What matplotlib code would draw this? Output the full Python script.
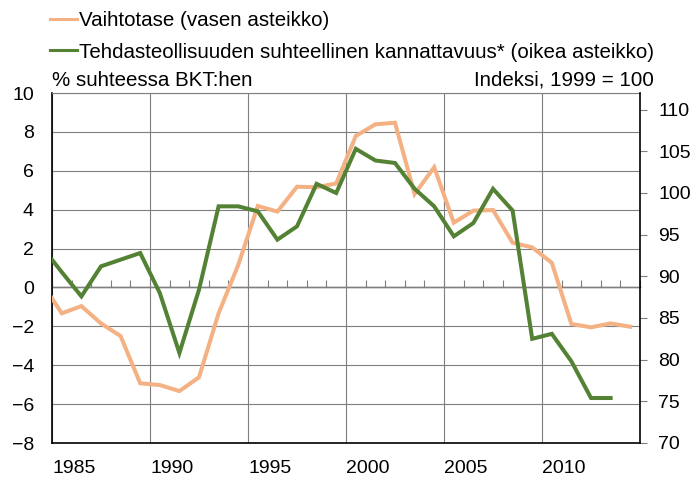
import numpy as np
import matplotlib.pyplot as plt
import matplotlib.transforms as mtransforms
from matplotlib.lines import Line2D

plt.rcParams['font.family'] = ['Liberation Sans', 'DejaVu Sans']

# Data; the 1984 points sit just outside the visible range
years = np.arange(1984, 2015)
vaihtotase = [0.2, -1.33, -0.96, -1.85, -2.5, -4.93, -5.02, -5.33, -4.62, -1.33,
              1.15, 4.19, 3.9, 5.18, 5.15, 5.35, 7.79, 8.39, 8.47, 4.8,
              6.18, 3.33, 3.95, 3.98, 2.3, 2.06, 1.27, -1.88, -2.05, -1.85, -2.02]
kannattavuus = [93.5, 90.5, 87.6, 91.2, 92.0, 92.8, 88.0, 80.8, 88.4, 98.4,
                98.4, 97.8, 94.4, 96.0, 101.1, 100.0, 105.3, 103.9, 103.6, 100.5,
                98.4, 94.8, 96.4, 100.5, 97.9, 82.5, 83.1, 79.8, 75.4, 75.4, np.nan]

x_years = [1985, 1990, 1995, 2000, 2005, 2010]
orange = '#F4B183'
green = '#548235'
grid_col = '#7F7F7F'

fig = plt.figure(figsize=(6.96, 4.8), dpi=100)
ax = fig.add_axes([52/696, 37/480, 588/696, 350/480])
ax2 = ax.twinx()

xpos = years + 0.5  # points at mid-year, gridlines at year boundaries
ax.plot(xpos, vaihtotase, color=orange, lw=2.9, solid_joinstyle='miter', zorder=3)
ax2.plot(xpos, kannattavuus, color=green, lw=2.9, solid_joinstyle='miter', zorder=3)

ax.set_xlim(1985, 2015)
ax.set_ylim(-8, 10)
ax.set_yticks(np.arange(-8, 11, 2))
ax2.set_ylim(70, 112)
ax2.set_yticks(np.arange(70, 111, 5))

ax.set_xticks(x_years)
ax.set_xticklabels([str(y) for y in x_years])
offset = mtransforms.ScaledTranslation(-3/100, 0, fig.dpi_scale_trans)
for lab in ax.get_xticklabels():
    lab.set_ha('left')
    lab.set_transform(lab.get_transform() + offset)

ax.grid(True, color=grid_col, lw=0.8)
ax.set_axisbelow(True)
ax.tick_params(axis='x', length=0, pad=12, labelsize=14)
ax.tick_params(axis='y', length=0, pad=13, labelsize=14)
ax2.tick_params(axis='y', length=5, width=0.8, color=grid_col, pad=8, labelsize=14)

for name in ['left', 'bottom']:
    ax.spines[name].set_color('black')
    ax.spines[name].set_linewidth(1.2)
ax.spines['top'].set_color(grid_col)
ax.spines['top'].set_linewidth(0.8)
ax.spines['right'].set_visible(False)
ax2.spines['right'].set_color('black')
ax2.spines['right'].set_linewidth(1.2)
for name in ['left', 'bottom', 'top']:
    ax2.spines[name].set_visible(False)

# zero axis with yearly tick marks
zero = ax.secondary_xaxis(8/18)
zero.set_xticks(np.arange(1985, 2016, 1))
zero.tick_params(direction='in', length=5, width=0.8, color=grid_col, labelbottom=False)
zero.spines['bottom'].set_color('#404040')
zero.spines['bottom'].set_linewidth(1.0)

fig.text(52/696, 1 - 80/480, '% suhteessa BKT:hen', fontsize=14.8, ha='left', va='center')
fig.text(654/696, 1 - 80/480, 'Indeksi, 1999 = 100', fontsize=14.8, ha='right', va='center')

handles = [Line2D([], [], color=orange, lw=2.2),
           Line2D([], [], color=green, lw=2.2)]
labels = ['Vaihtotase (vasen asteikko)',
          'Tehdasteollisuuden suhteellinen kannattavuus* (oikea asteikko)']
fig.legend(handles, labels, loc='upper left', bbox_to_anchor=(42/696, 1 - 3/480),
           frameon=False, fontsize=14.8, handlelength=1.3, handletextpad=0.12,
           labelspacing=0.6, borderaxespad=0)

fig.savefig('out.png', dpi=100)
